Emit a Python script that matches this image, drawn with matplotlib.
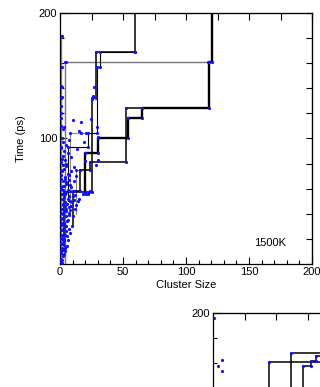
import matplotlib
matplotlib.use("Agg")
import matplotlib.pyplot as plt
import numpy as np
from matplotlib.ticker import MultipleLocator, FixedLocator, NullFormatter

plt.rcParams['font.family'] = ['Liberation Sans', 'DejaVu Sans']
plt.rcParams['font.size'] = 8

# cluster growth trajectories: size held between event times
# (len(times) = len(sizes) + 1)
t1_sizes = [20, 30, 54, 65, 118, 121]
t1_times = [56, 88, 100, 116, 124, 161, 200]
t2_sizes = [10, 16, 24, 52, 65]
t2_times = [30, 58, 75, 81, 124, 124]
t3a_sizes = [3, 25, 28.3, 59.5]
t3a_times = [15, 57, 132.5, 168.5, 200]
t3b_sizes = [6, 22, 29, 31.7, 59.5]
t3b_times = [50, 93, 104, 156.6, 168.5, 168.5]
g1_sizes = [4, 117.7]
g1_times = [0, 161, 161]
g2_sizes = [1]
g2_times = [0, 182]
g3_sizes = [8, 20.6]
g3_times = [45, 104, 104]
g4_sizes = [13, 16]
g4_times = [40, 75, 75]

# free small clusters (blue dots)
dots_x = [0.5, 1, 1.5, 2, 0.8, 2.5, 1.2, 3, 0.6, 2, 3.5, 1.8, 4, 2.8,
          0.5, 1.5, 3, 4.5, 2, 5, 1, 3.5, 6, 2.5, 4.5, 7, 0.8, 5.5, 3,
          1, 3, 5, 7, 9, 2, 4, 8, 11, 6, 3, 10, 12, 1.5, 5, 8, 13, 7, 15, 2.5,
          20, 22, 23.3, 24, 21, 18,
          0.8, 3, 5, 2, 7, 4, 1, 6, 9, 3, 11, 2, 8, 13, 5,
          1, 4, 2, 6, 3, 1, 5, 2.5, 13.2, 9, 20, 19.3, 7,
          2.1, 3.4, 10, 16.7, 15.3, 16.7, 0.8, 0.8, 0.8, 0.8, 1.8, 1.8, 0.8,
          29.9, 24.6, 29, 25.2, 25.9, 26, 28.3, 27.2, 28.6, 29.9,
          1.8, 1.3, 4.5,
          0.4, 0.9, 1.3, 0.6, 1.1, 0.7, 1.6, 0.5, 1.2, 0.9, 2.2, 1.4,
          2.2, 3.8, 1.4, 5.2, 2.9, 6.5, 4.2, 1.9, 7.8, 3.3, 5.9, 9.5,
          2.6, 6.8, 4.8, 10.5, 3.6, 8.3, 5.6, 12.2, 1.7, 7.2, 9.8, 4.1,
          6.2, 11.4, 2.4, 8.8, 14, 5.1, 3.9, 10.8, 6.9, 1.9, 4.6, 2.8]
dots_t = [2, 4, 1, 6, 9, 11, 13, 15, 17, 19, 8, 3, 13, 18,
          21, 23, 24, 26, 28, 30, 31, 33, 35, 37, 38, 39, 36, 22, 29,
          41, 42, 44, 45, 46, 48, 49, 50, 51, 52, 53, 54, 55, 56, 57, 58, 47, 41, 52, 59,
          57, 56, 57.4, 58, 55.5, 56,
          61, 62, 64, 66, 67, 69, 71, 72, 74, 76, 77, 79, 63, 70, 78,
          81, 83, 86, 88, 90, 93, 95, 97, 91.8, 85, 81.7, 97, 99,
          107.7, 109, 115, 113, 105.6, 104.2, 110, 116, 126, 132.5, 133.3, 140.7, 142,
          101, 115.6, 109, 131.5, 133.3, 134, 142, 141.3, 78.6, 82.5,
          156.6, 181.7, 160.6,
          10, 27, 44, 60, 68, 75, 84, 92, 100, 120, 47, 33,
          7, 10, 16, 14, 20, 19, 23, 27, 25, 32, 34, 30,
          40, 28, 42, 38, 46, 43, 48, 44, 52, 54, 49, 56,
          59, 58, 62, 61, 50, 65, 68, 66, 71, 74, 80, 12]

# inset panel (lower right, mostly off the page)
in_dots_x = [0.8, 6.9, 4.2, 7.4]
in_dots_t = [195.8, 163, 158, 154]
s1_sizes = [71, 78, 82, 200]
s1_times = [100, 158, 162, 166, 166]
s2_sizes = [44, 200]
s2_times = [100, 161.3, 161.3]
s3_sizes = [62, 200]
s3_times = [100, 168, 168]

BLUE = '#1010ff'


def steps(sizes, times):
    xs = np.repeat(sizes, 2)
    ys = np.repeat(times, 2)[1:-1]
    return xs, ys


def corners(sizes, times):
    cx, cy = [], []
    for i in range(1, len(sizes)):
        cx += [sizes[i - 1], sizes[i]]
        cy += [times[i], times[i]]
    return cx, cy


def draw(ax, sizes, times, color, lw):
    xs, ys = steps(sizes, times)
    ax.plot(xs, ys, color=color, lw=lw, zorder=2)
    cx, cy = corners(sizes, times)
    ax.plot(cx, cy, 'o', color=BLUE, ms=2.3, mec='none', zorder=3)


def style(ax, labels=True):
    ax.set_xlim(0, 200)
    ax.set_ylim(0, 200)
    ax.xaxis.set_major_locator(MultipleLocator(50))
    ax.xaxis.set_minor_locator(MultipleLocator(10))
    ax.yaxis.set_major_locator(FixedLocator([100, 200]))
    ax.yaxis.set_minor_locator(MultipleLocator(20))
    ax.tick_params(which='both', direction='in', top=False, right=False)
    ax.tick_params(which='major', length=5, width=0.8, pad=2)
    ax.tick_params(which='minor', length=3, width=0.8)
    if not labels:
        # only the top of this panel is on the page
        ax.tick_params(labelbottom=False)
        ax.set_yticks([100, 200], ['', '200'])
    top = ax.secondary_xaxis('top')
    top.xaxis.set_major_locator(MultipleLocator(25))
    top.tick_params(direction='in', length=5, width=0.8)
    top.xaxis.set_major_formatter(NullFormatter())
    right = ax.secondary_yaxis('right')
    right.yaxis.set_major_locator(MultipleLocator(20))
    right.tick_params(direction='in', length=4, width=0.8)
    right.yaxis.set_major_formatter(NullFormatter())
    for sp in ax.spines.values():
        sp.set_linewidth(0.9)


fig = plt.figure(figsize=(3.2, 3.87), dpi=100)
ax = fig.add_axes([0.1875, 0.3178, 0.7875, 0.649])

draw(ax, g2_sizes, g2_times, '#888888', 1.0)
draw(ax, g1_sizes, g1_times, '#777777', 1.0)
draw(ax, g3_sizes, g3_times, '#888888', 0.8)
draw(ax, g4_sizes, g4_times, '#888888', 0.8)
draw(ax, t3b_sizes, t3b_times, 'black', 0.8)
draw(ax, t2_sizes, t2_times, 'black', 1.1)
draw(ax, t3a_sizes, t3a_times, 'black', 1.1)
draw(ax, t1_sizes, t1_times, 'black', 1.7)
ax.plot(dots_x, dots_t, 'o', color=BLUE, ms=2.3, mec='none', zorder=3)

style(ax)
ax.set_xlabel('Cluster Size', labelpad=2)
ax.set_ylabel('Time (ps)', labelpad=9)
ax.text(167, 17, '1500K', ha='center', va='center')

ax2 = fig.add_axes([0.666, -0.46, 0.7875, 0.651])
draw(ax2, s2_sizes, s2_times, 'black', 1.1)
draw(ax2, s3_sizes, s3_times, 'black', 1.1)
draw(ax2, s1_sizes, s1_times, 'black', 1.1)
ax2.plot(in_dots_x, in_dots_t, 'o', color=BLUE, ms=2.3, mec='none', zorder=3)
style(ax2, labels=False)

fig.savefig('out.png', dpi=100)
